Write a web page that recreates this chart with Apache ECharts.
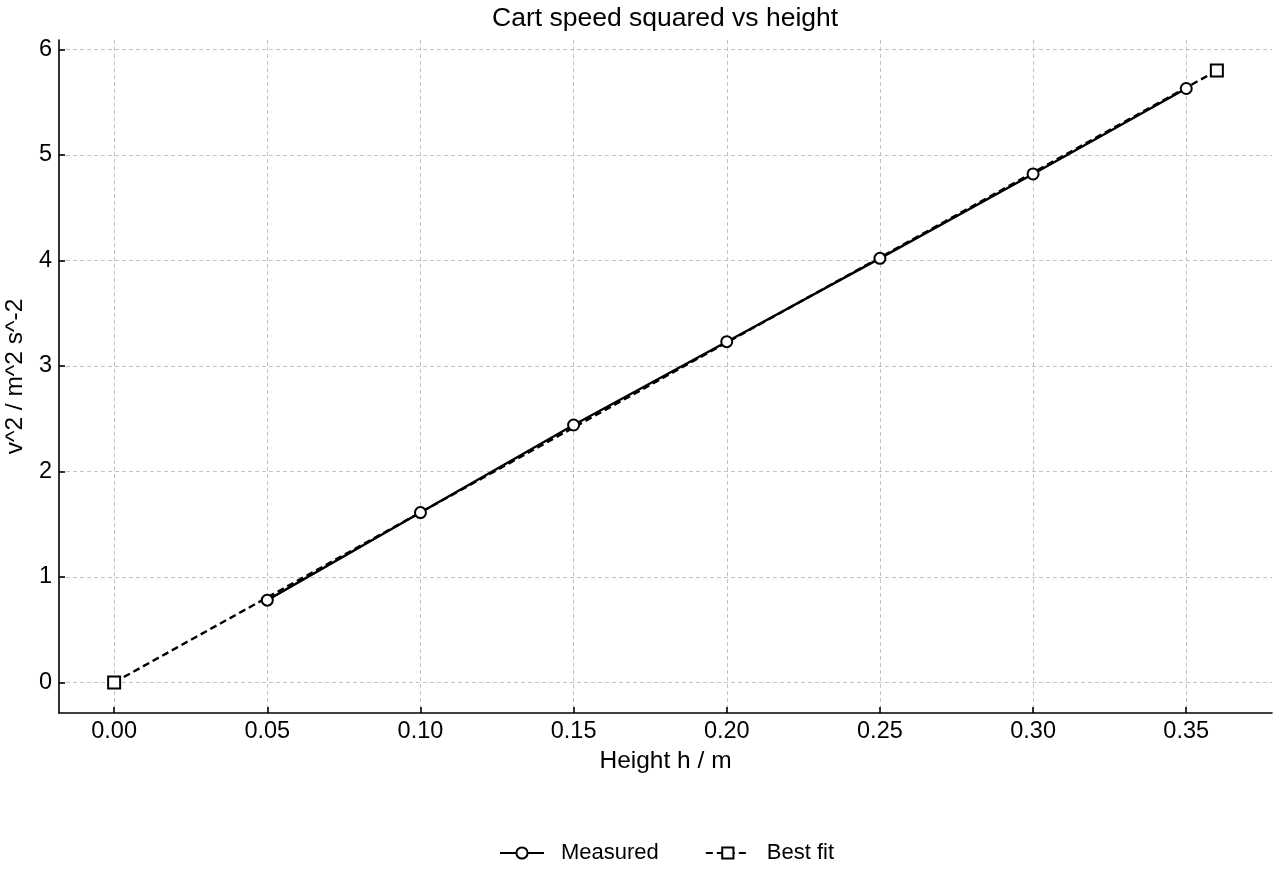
<!DOCTYPE html>
<html>
<head>
<meta charset="utf-8">
<script src="https://cdn.jsdelivr.net/npm/echarts@6/dist/echarts.min.js"></script>
<style>
html,body{margin:0;padding:0;background:#fff;}
#chart{width:1280px;height:880px;}
</style>
</head>
<body>
<div id="chart"></div>
<script>
// Data
const heights = [0.05, 0.10, 0.15, 0.20, 0.25, 0.30, 0.35];
const measuredV2 = [0.78, 1.61, 2.44, 3.23, 4.02, 4.82, 5.63];
const fitHeights = [0.00, 0.36];
const fitV2 = [0.00, 5.80];
const xTicks = [0.00, 0.05, 0.10, 0.15, 0.20, 0.25, 0.30, 0.35];
const yTicks = [0, 1, 2, 3, 4, 5, 6];

const FONT = 'Liberation Sans, Arial, Helvetica, sans-serif';

const chart = echarts.init(document.getElementById('chart'), null, {renderer: 'canvas'});
const option = {
  backgroundColor: '#ffffff',
  animation: false,
  textStyle: {fontFamily: FONT, color: '#000'},
  title: {
    text: 'Cart speed squared vs height',
    left: 487,
    top: 0,
    textStyle: {fontFamily: FONT, fontSize: 26.5, fontWeight: 'normal', color: '#000'}
  },
  grid: {left: 59, right: 8, top: 40, bottom: 167, containLabel: false, outerBoundsMode: 'none'},
  legend: {
    bottom: 11,
    left: 494,
    itemWidth: 44,
    itemHeight: 14,
    itemGap: 46,
    textStyle: {fontFamily: FONT, fontSize: 22, color: '#000', padding: [0, 0, 0, 12]},
    data: ['Measured', 'Best fit']
  },
  xAxis: {
    type: 'value',
    min: -0.018,
    max: 0.378,
    minInterval: 0.05,
    maxInterval: 0.05,
    splitNumber: 8,
    name: 'Height h / m',
    nameLocation: 'middle',
    nameGap: 36,
    nameTextStyle: {fontFamily: FONT, fontSize: 24.5, color: '#000'},
    axisLine: {show: true, onZero: false, lineStyle: {color: '#000', width: 1.6}},
    axisTick: {show: true, inside: true, length: 6, lineStyle: {color: '#000', width: 1.6}, customValues: xTicks},
    axisLabel: {
      fontFamily: FONT, fontSize: 23.5, color: '#000', margin: 7,
      customValues: xTicks,
      formatter: v => v.toFixed(2)
    },
    splitLine: {show: true, lineStyle: {color: '#c4c4c4', width: 1, type: [4, 3]}}
  },
  yAxis: {
    type: 'value',
    min: -0.29,
    max: 6.09,
    minInterval: 1,
    maxInterval: 1,
    name: 'v^2 / m^2 s^-2',
    nameLocation: 'middle',
    nameGap: 30,
    nameTextStyle: {fontFamily: FONT, fontSize: 24.5, color: '#000'},
    axisLine: {show: true, onZero: false, lineStyle: {color: '#000', width: 1.6}},
    axisTick: {show: true, inside: true, length: 6, lineStyle: {color: '#000', width: 1.6}, customValues: yTicks},
    axisLabel: {
      fontFamily: FONT, fontSize: 23.5, color: '#000', margin: 7,
      customValues: yTicks,
      formatter: v => String(Math.round(v))
    },
    splitLine: {show: true, lineStyle: {color: '#c4c4c4', width: 1, type: [4, 3]}}
  },
  series: [
    {
      name: 'Measured',
      type: 'line',
      data: heights.map((h, i) => [h, measuredV2[i]]),
      symbol: 'circle',
      symbolSize: 11,
      showAllSymbol: true,
      lineStyle: {color: '#000', width: 2.4, type: 'solid'},
      itemStyle: {color: '#fff', borderColor: '#000', borderWidth: 2},
      z: 3
    },
    {
      name: 'Best fit',
      type: 'line',
      data: fitHeights.map((h, i) => [h, fitV2[i]]),
      symbol: 'rect',
      symbolSize: 12,
      lineStyle: {color: '#000', width: 2.4, type: [7, 4]},
      itemStyle: {color: '#fff', borderColor: '#000', borderWidth: 2},
      z: 2
    }
  ]
};
chart.setOption(option);
</script>
</body>
</html>
